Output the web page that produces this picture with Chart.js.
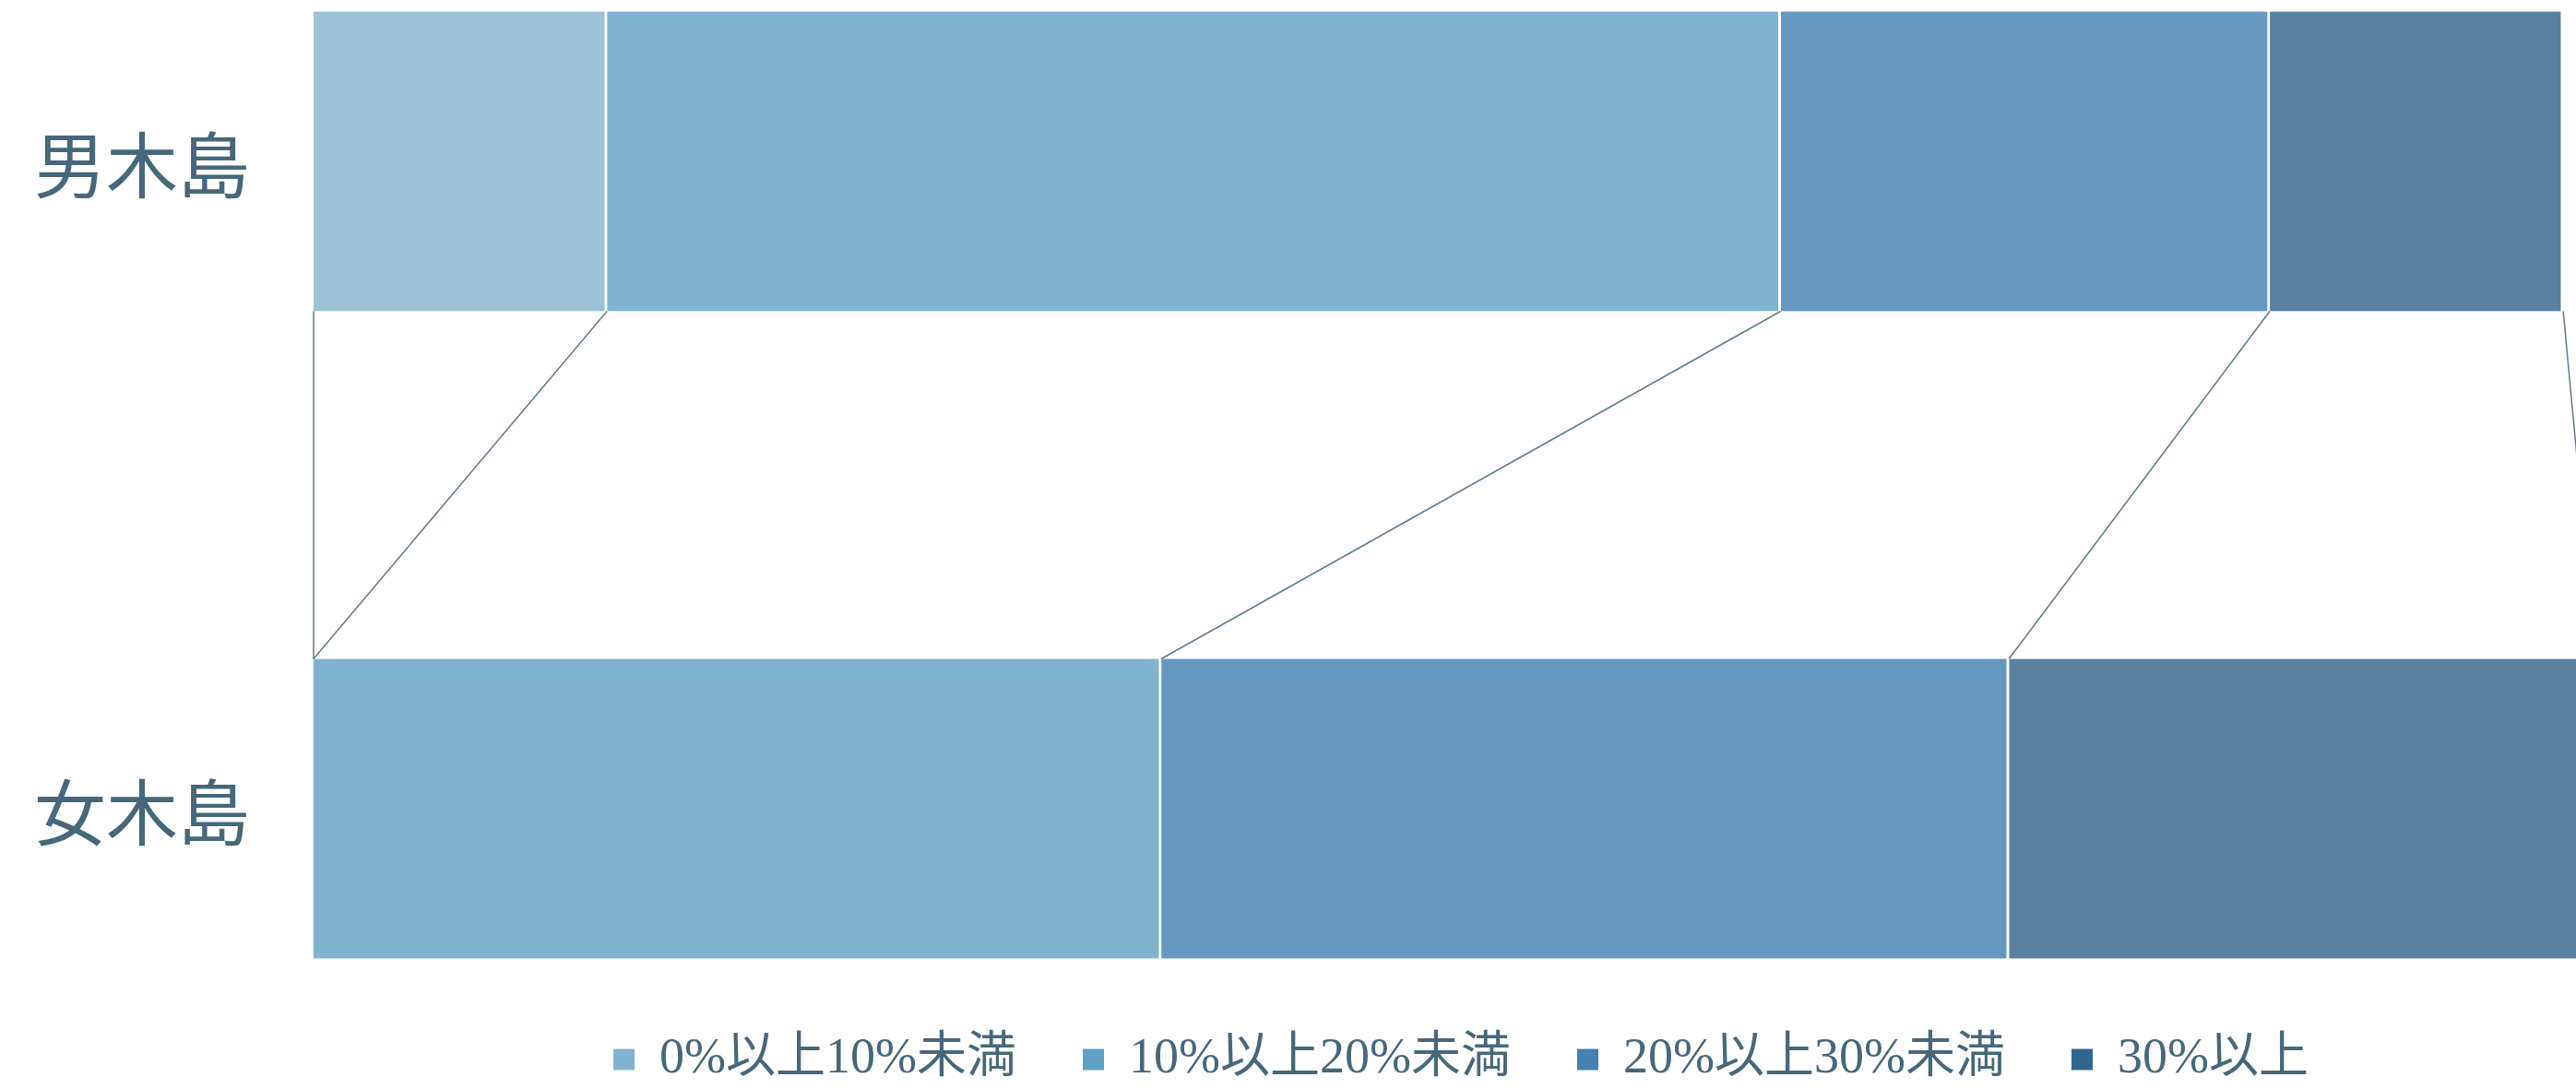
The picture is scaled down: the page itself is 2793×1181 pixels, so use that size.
<!DOCTYPE html>
<html lang="ja">
<head>
<meta charset="utf-8">
<title>男木島・女木島</title>
<script src="https://cdn.jsdelivr.net/npm/chart.js@4.4.0/dist/chart.umd.min.js"></script>
<style>
  html, body { margin: 0; padding: 0; overflow: hidden; background: #ffffff; }
  #wrap { width: 2793px; height: 1181px; overflow: hidden; }
  canvas { display: block; }
</style>
</head>
<body>
<div id="wrap"><canvas id="chart" width="3168" height="1181"></canvas></div>
<script>
// data (bar lengths, same unit for both islands)
const categories = ["男木島", "女木島"];
const seriesLabels = ["0%以上10%未満", "10%以上20%未満", "20%以上30%未満", "30%以上"];
const under10 = [9, 0];
const from10to20 = [36, 26];
const from20to30 = [15, 26];
const over30 = [9, 18];

const barColors = ["#9bc2d6", "#80b3cf", "#6699bf", "#5a80a0"];
const legendColors = ["#80b3cf", "#5fa0c5", "#4580b0", "#2f6690"];
const textColor = "#46687a";
const fontFamily = '"Liberation Serif", "Noto Sans CJK JP", serif';

const seriesValues = [under10, from10to20, from20to30, over30];

// lines joining the segment edges of the two bars
const seriesLines = {
  id: "seriesLines",
  afterDatasetsDraw(chart) {
    const ctx = chart.ctx;
    const xScale = chart.scales.x;
    ctx.save();
    ctx.strokeStyle = "#5d7b8b";
    ctx.lineWidth = 1.5;
    chart.data.datasets.forEach((ds, i) => {
      const meta = chart.getDatasetMeta(i);
      const top = meta.data[0];
      const bottom = meta.data[1];
      if (i === 0) {
        const x0 = xScale.getPixelForValue(0);
        ctx.beginPath();
        ctx.moveTo(x0, top.y + top.height / 2);
        ctx.lineTo(x0, bottom.y - bottom.height / 2);
        ctx.stroke();
      }
      ctx.beginPath();
      ctx.moveTo(top.x, top.y + top.height / 2);
      ctx.lineTo(bottom.x, bottom.y - bottom.height / 2);
      ctx.stroke();
    });
    ctx.restore();
  },
};

const ctx = document.getElementById("chart").getContext("2d");
new Chart(ctx, {
  type: "bar",
  data: {
    labels: categories,
    datasets: seriesLabels.map((label, i) => ({
      label: label,
      data: seriesValues[i],
      backgroundColor: barColors[i],
      borderColor: "#ffffff",
      borderWidth: { top: 0, right: 3, bottom: 0, left: 0 },
      borderSkipped: false,
      barThickness: 325,
      clip: false,
    })),
  },
  options: {
    indexAxis: "y",
    responsive: false,
    animation: false,
    layout: { padding: { top: 175, right: 0, bottom: -5, left: 0 } },
    plugins: {
      tooltip: { enabled: false },
      legend: {
        position: "bottom",
        labels: {
          boxWidth: 23,
          boxHeight: 23,
          padding: 72,
          color: textColor,
          font: { family: fontFamily, size: 54 },
          generateLabels: () =>
            seriesLabels.map((text, i) => ({
              text: text,
              fillStyle: legendColors[i],
              strokeStyle: legendColors[i],
              lineWidth: 0,
              hidden: false,
              datasetIndex: i,
              fontColor: textColor,
            })),
        },
      },
    },
    scales: {
      x: {
        type: "linear",
        stacked: true,
        min: 0,
        max: 80,
        grid: { display: false, drawTicks: false },
        border: { display: false },
        ticks: { display: false },
        afterFit: (scale) => { scale.height = 173; },
      },
      y: {
        type: "category",
        stacked: true,
        offset: false,
        grid: { display: false, drawTicks: false, tickLength: 0 },
        border: { display: false },
        ticks: {
          padding: 69,
          labelOffset: 14,
          color: textColor,
          font: { family: fontFamily, size: 78 },
        },
        afterFit: (scale) => { scale.width = 340; },
      },
    },
  },
  plugins: [seriesLines],
});
</script>
</body>
</html>
